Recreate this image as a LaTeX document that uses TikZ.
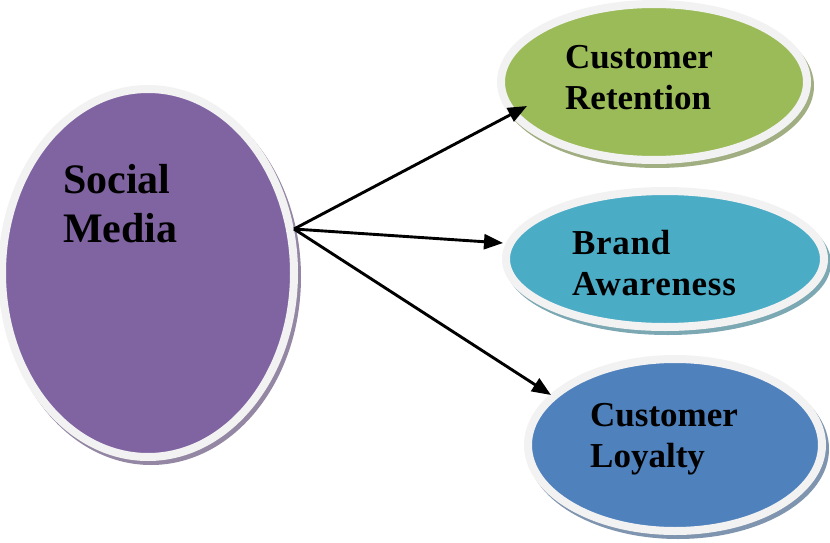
\documentclass[tikz,border=0pt]{standalone}
\usepackage{fontspec}
\setmainfont{Liberation Serif}
\usetikzlibrary{arrows.meta,shapes.geometric}
\definecolor{smpurple}{HTML}{8064A2}
\definecolor{crgreen}{HTML}{9BBB59}
\definecolor{baaqua}{HTML}{4BACC6}
\definecolor{clblue}{HTML}{4F81BD}
\definecolor{ringgray}{HTML}{F2F2F2}
\definecolor{sgray}{HTML}{A4A4A4}
\tikzset{
  bubble/.style={ellipse, inner sep=0pt, line width=8pt, draw=ringgray},
  bubbleshadow/.style={fill=#1!45!sgray},
  biglabel/.style={anchor=base west, align=left, inner sep=0pt, font=\bfseries\fontsize{42}{49}\selectfont},
  smalllabel/.style={anchor=base west, align=left, inner sep=0pt, font=\bfseries\fontsize{35}{41}\selectfont},
  link/.style={line width=2.9pt, -{Triangle[length=19pt,width=15pt]}}
}
\begin{document}
\begin{tikzpicture}[x=1pt,y=-1pt]
\useasboundingbox (0,0) rectangle (830,543);
% shadows
\fill[bubbleshadow=smpurple] (151,277) ellipse (150 and 188);
\fill[bubbleshadow=crgreen] (657,86) ellipse (157 and 82);
\fill[bubbleshadow=baaqua] (668,263) ellipse (163 and 72);
\fill[bubbleshadow=clblue] (678,449) ellipse (151 and 90);
% bubbles
\node[bubble, fill=smpurple, minimum width=292pt, minimum height=368pt] (sm) at (148,273) {};
\node[bubble, fill=crgreen, minimum width=306pt, minimum height=156pt] (cr) at (654,82) {};
\node[bubble, fill=baaqua, minimum width=318pt, minimum height=136pt] (ba) at (665,259) {};
\node[bubble, fill=clblue, minimum width=294pt, minimum height=172pt] (cl) at (675,445) {};
% labels (anchored at the baseline of the last line)
\node[biglabel] (smt) at (63,242) {Social\\Media};
\node[smalllabel] (crt) at (565,110) {Customer\\Retention};
\node[smalllabel] (bat) at (572,295) {\addfontfeature{LetterSpace=2}Brand\\\addfontfeature{LetterSpace=2}Awareness};
\node[smalllabel] (clt) at (590,467) {Customer\\Loyalty};
% connectors
\coordinate (src) at (294,229);
\coordinate (crin) at (527,106);
\coordinate (bain) at (503,243);
\coordinate (clin) at (551,395);
\draw[link] (src) -- (crin);
\draw[link] (src) -- (bain);
\draw[link] (src) -- (clin);
\end{tikzpicture}
\end{document}
